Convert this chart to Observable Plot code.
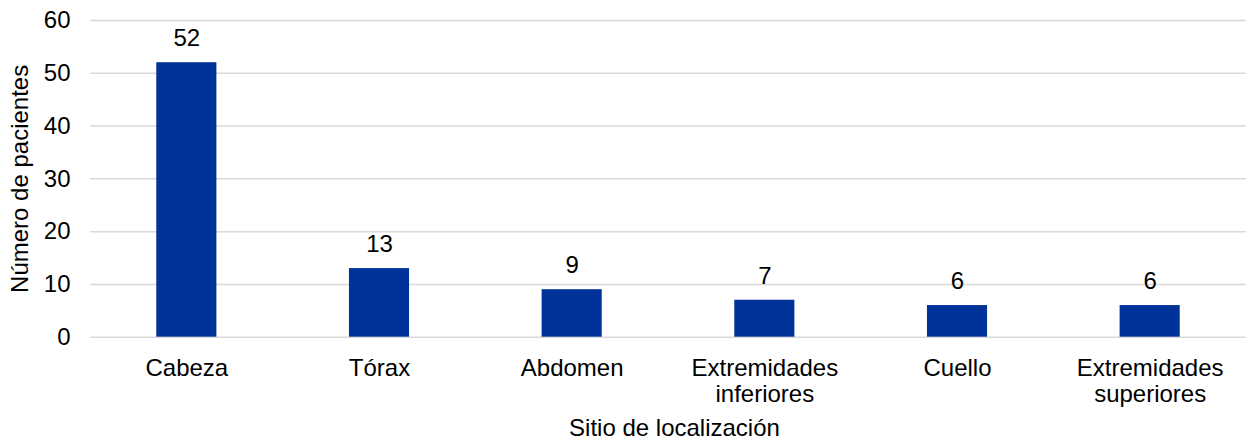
<!DOCTYPE html>
<html>
<head>
<meta charset="utf-8">
<script src="https://cdn.jsdelivr.net/npm/d3@7"></script>
<script src="https://cdn.jsdelivr.net/npm/@observablehq/plot@0.6"></script>
<style>
  html, body { margin: 0; padding: 0; background: #fff; }
  #chart svg { display: block; }
</style>
</head>
<body>
<div id="chart"></div>
<script>
const categories = ["Cabeza", "Tórax", "Abdomen", "Extremidades inferiores", "Cuello", "Extremidades superiores"];
const categoryLabels = ["Cabeza", "Tórax", "Abdomen", "Extremidades\ninferiores", "Cuello", "Extremidades\nsuperiores"];
const values = [52, 13, 9, 7, 6, 6];
const yTicks = [0, 10, 20, 30, 40, 50, 60];
const yTitle = "Número de pacientes";
const xTitle = "Sitio de localización";

const data = categories.map((c, i) => ({category: c, label: categoryLabels[i], value: values[i]}));
const font = "'Liberation Sans', Arial, sans-serif";

const chart = Plot.plot({
  width: 1247,
  height: 443,
  marginLeft: 90,
  marginRight: 1,
  marginTop: 20,
  marginBottom: 106.3,
  style: {fontFamily: font, fontSize: "24px", color: "#000", background: "#fff"},
  x: {domain: categories, paddingInner: 0.688, paddingOuter: 0.344, round: false, axis: null},
  y: {domain: [0, 60], axis: null},
  marks: [
    Plot.ruleY(yTicks, {stroke: "#d9d9d9", strokeWidth: 1.5}),
    Plot.barY(data, {x: "category", y: "value", fill: "#003399"}),
    Plot.text(data, {x: "category", y: "value", text: d => String(d.value), lineAnchor: "bottom", dy: -16.5, fontSize: 24, fill: "#000"}),
    Plot.text(yTicks, {y: d => d, text: d => String(d), frameAnchor: "left", textAnchor: "end", dx: -20, fontSize: 24, fill: "#000"}),
    Plot.text(data, {x: "category", text: "label", frameAnchor: "bottom", lineAnchor: "top", dy: 20.6, lineHeight: 1.083, fontSize: 24, fill: "#000"}),
    Plot.text([xTitle], {text: d => d, frameAnchor: "bottom", lineAnchor: "bottom", dy: 98.3, dx: 6, fontSize: 24, fill: "#000"}),
    Plot.text([yTitle], {text: d => d, frameAnchor: "left", textAnchor: "middle", lineAnchor: "middle", rotate: -90, dx: -70, fontSize: 24, fill: "#000"})
  ]
});
document.getElementById("chart").appendChild(chart);
</script>
</body>
</html>
